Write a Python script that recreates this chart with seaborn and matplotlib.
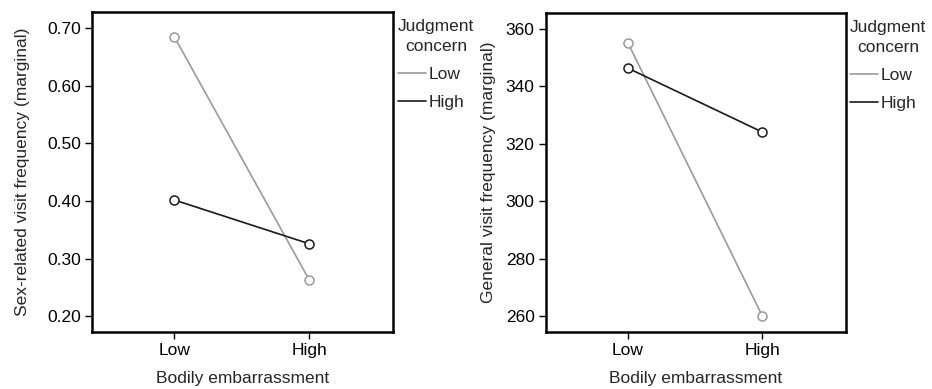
import matplotlib
matplotlib.use("Agg")
import matplotlib.pyplot as plt
import seaborn as sns
import pandas as pd

bodily = ["Low", "High"]
judgment = ["Low", "High"]
sex_low_jc = [0.685, 0.263]
sex_high_jc = [0.402, 0.326]
gen_low_jc = [355.3, 260.0]
gen_high_jc = [346.4, 324.1]

sns.set_style("white")
plt.rcParams["font.family"] = ["Liberation Sans", "DejaVu Sans"]

def make_df(low, high):
    rows = []
    for i, b in enumerate(bodily):
        rows.append({"x": i, "BE": b, "JC": "Low", "val": low[i]})
    for i, b in enumerate(bodily):
        rows.append({"x": i, "BE": b, "JC": "High", "val": high[i]})
    return pd.DataFrame(rows)

fig = plt.figure(figsize=(9.32, 3.89), dpi=100)
ax1 = fig.add_axes([0.0987, 0.1465, 0.323, 0.8226])
ax2 = fig.add_axes([0.5855, 0.1465, 0.3219, 0.8201])

pal = {"Low": "#9a9a9a", "High": "#1a1a1a"}

def draw(ax, df, ylabel, ylim, yticks, fmt, legx, ypad):
    sns.lineplot(data=df, x="x", y="val", hue="JC", hue_order=judgment,
                 palette=pal, marker="o", markersize=6.5, markerfacecolor="white",
                 linewidth=1.2, ax=ax, sort=False, legend=True)
    for line, jc in zip(ax.lines, judgment):
        line.set_markeredgecolor(pal[jc])
        line.set_markeredgewidth(1.1)
    ax.set_xlim(-0.61, 1.62)
    ax.set_ylim(*ylim)
    ax.set_xticks([0, 1])
    ax.set_xticklabels(bodily, fontsize=12.5)
    ax.set_yticks(yticks)
    ax.set_yticklabels([fmt.format(v) for v in yticks], fontsize=12.5)
    ax.set_xlabel("Bodily embarrassment", fontsize=12.5, labelpad=9)
    ax.set_ylabel(ylabel, fontsize=12.5, labelpad=ypad)
    for s in ax.spines.values():
        s.set_visible(True)
        s.set_color("black")
        s.set_linewidth(1.8)
    ax.tick_params(axis="both", direction="out", length=5, width=1.0,
                   colors="black", left=True, bottom=True, pad=3)
    ax.set_facecolor("white")
    handles, labels = ax.get_legend_handles_labels()
    for h in handles:
        h.set_marker("")
    leg = ax.legend(handles, labels, title="Judgment\nconcern",
                    loc="upper left", bbox_to_anchor=(legx, 0.985),
                    frameon=False, fontsize=12.5, title_fontsize=12.5,
                    handlelength=1.65, handletextpad=0.12, labelspacing=0.75,
                    borderaxespad=0.0, borderpad=0.1, alignment="left")
    t = leg.get_title()
    t.set_multialignment("center")
    t.set_linespacing(1.45)
    for h in leg.get_lines():
        h.set_linewidth(1.2)
    return leg

draw(ax1, make_df(sex_low_jc, sex_high_jc), "Sex-related visit frequency (marginal)",
     (0.173, 0.728), [0.2, 0.3, 0.4, 0.5, 0.6, 0.7], "{:.2f}", 1.01, 12)
draw(ax2, make_df(gen_low_jc, gen_high_jc), "General visit frequency (marginal)",
     (254.4, 365.6), [260, 280, 300, 320, 340, 360], "{:.0f}", 1.008, 7)

fig.savefig("out.png", dpi=100)
